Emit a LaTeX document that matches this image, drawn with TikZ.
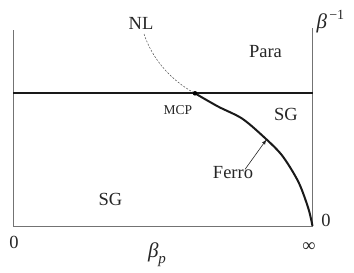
\documentclass[tikz,border=0pt]{standalone}
\usepackage{fontspec}
\setmainfont{Liberation Serif}
\usetikzlibrary{arrows.meta}

\begin{document}
\begin{tikzpicture}[x=1pt,y=-1pt,line width=1pt,>={Latex[length=5pt,width=3.6pt]},
  lbl/.style={font=\fontsize{18.5}{22}\selectfont,text=black!85,inner sep=0pt,anchor=base},
  small/.style={font=\fontsize{13.5}{16}\selectfont,text=black!85,inner sep=0pt,anchor=base}]
  \useasboundingbox (0,0) rectangle (354,273);
  % frame
  \coordinate (tl) at (13,30); \coordinate (bl) at (13,226);
  \coordinate (tr) at (312.5,28); \coordinate (br) at (312.5,226);
  \draw[black!55,line width=0.9pt] (tl) -- (bl) -- (br) -- (tr);
  % phase boundaries
  \coordinate (hl) at (13,93.3); \coordinate (hr) at (312.5,93.3);
  \coordinate (mcp) at (195,93.3); \coordinate (nlend) at (144,34);
  \draw[line width=2pt,black!90] (hl) -- (hr);
  \draw[line width=2pt,black!90] plot[smooth] coordinates {(mcp) (218,106.5) (241.7,118.3) (261.7,135) (281.7,155) (298.3,181.7) (308.3,208.3) (br)};
  \draw[black!70,line width=0.5pt,dash pattern=on 2pt off 1.5pt] (nlend) .. controls (152,58) and (170,80) .. (mcp);
  \fill[black] (mcp) circle (2.3pt);
  % labels
  \node[lbl] (nl) at (141,29.3) {NL};
  \node[lbl] (para) at (265.5,57) {Para};
  \node[lbl] (sgr) at (286,120) {SG};
  \node[small] (mcplbl) at (178,114) {MCP};
  \node[lbl] (ferro) at (233,178) {Ferro};
  \node[lbl] (sgl) at (110.5,205) {SG};
  \coordinate (fhead) at (266.5,139.5);
  \draw[->,line width=0.6pt,black!85] ([xshift=12pt,yshift=-4pt]ferro.north) -- (fhead);
  % axes
  \node[lbl] (zr) at (326,226.7) {0};
  \node[lbl] (zl) at (14,248) {0};
  \node[lbl,anchor=center] (inf) at (309,247.5) {∞};
  \node[lbl,anchor=base west,font=\fontsize{21}{24}\selectfont] (bp) at (147.5,257.5) {\textit{β}\raisebox{-0.28em}{\fontsize{15}{17}\selectfont\textit{p}}};
  \node[lbl,anchor=base west,font=\fontsize{21}{24}\selectfont] (binv) at (316,28) {\textit{β}\raisebox{0.42em}{\fontsize{14}{16}\selectfont\,−1}};
\end{tikzpicture}
\end{document}
